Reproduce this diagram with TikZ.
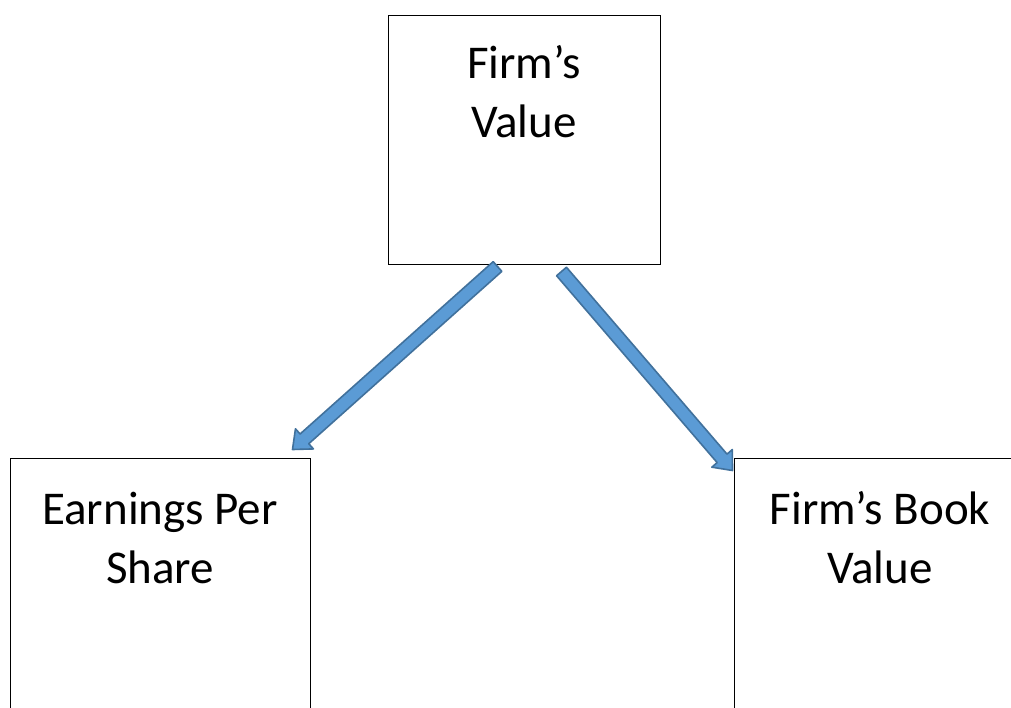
\documentclass[tikz,border=0pt]{standalone}
\usepackage{fontspec}
\setmainfont{Carlito}
\usetikzlibrary{calc}

\definecolor{arrowfill}{HTML}{5B9BD5}
\definecolor{arrowline}{HTML}{41719C}

\tikzset{
  box/.style={draw=black, line width=1pt, fill=white, inner sep=0pt},
  boxtext/.style={anchor=north, align=center, inner sep=0pt,
    font=\fontsize{47}{59}\selectfont},
  blockarrow/.style={fill=arrowfill, draw=arrowline, line width=1.6pt, line join=round},
}

% block arrow polygon from tail #1 to tip #2
\newcommand{\blockarrowpath}[2]{%
  \path ($(#2)!16pt!(#1)$) coordinate (ba-neck);
  \draw[blockarrow]
    ($(#1)!6.5pt!90:(#2)$) --
    ($(ba-neck)!6.5pt!90:(#2)$) --
    ($(ba-neck)!13.5pt!90:(#2)$) --
    (#2) --
    ($(ba-neck)!13.5pt!-90:(#2)$) --
    ($(ba-neck)!6.5pt!-90:(#2)$) --
    ($(#1)!6.5pt!-90:(#2)$) -- cycle;
}

\begin{document}
\begin{tikzpicture}[x=1pt,y=-1pt]
  \useasboundingbox (0,0) rectangle (1011,707);
  \clip (0,0) rectangle (1011,707);
  \fill[white] (0,0) rectangle (1011,707);

  % boxes
  \node[box, minimum width=272pt, minimum height=249pt] (value) at (524,139.5) {};
  \node[box, minimum width=300pt, minimum height=262pt] (eps) at (160,589) {};
  \node[box, minimum width=292pt, minimum height=262pt] (book) at (880,589) {};

  % labels
  \node[boxtext] (valuetext) at ($(value.north)+(0,31)$) {Firm’s\\Value};
  \node[boxtext] (epstext) at ($(eps.north)+(0,34)$) {Earnings Per\\Share};
  \node[boxtext] (booktext) at ($(book.north)+(0,34)$) {Firm’s Book\\Value};

  % arrow ends
  \coordinate (a1tail) at ($(value.south west)+(110,2)$);
  \coordinate (a1tip)  at ($(eps.north east)+(-18,-8)$);
  \coordinate (a2tail) at ($(value.south west)+(174,7)$);
  \coordinate (a2tip)  at ($(book.north west)+(-1,13)$);

  \blockarrowpath{a1tail}{a1tip}
  \blockarrowpath{a2tail}{a2tip}
\end{tikzpicture}
\end{document}
